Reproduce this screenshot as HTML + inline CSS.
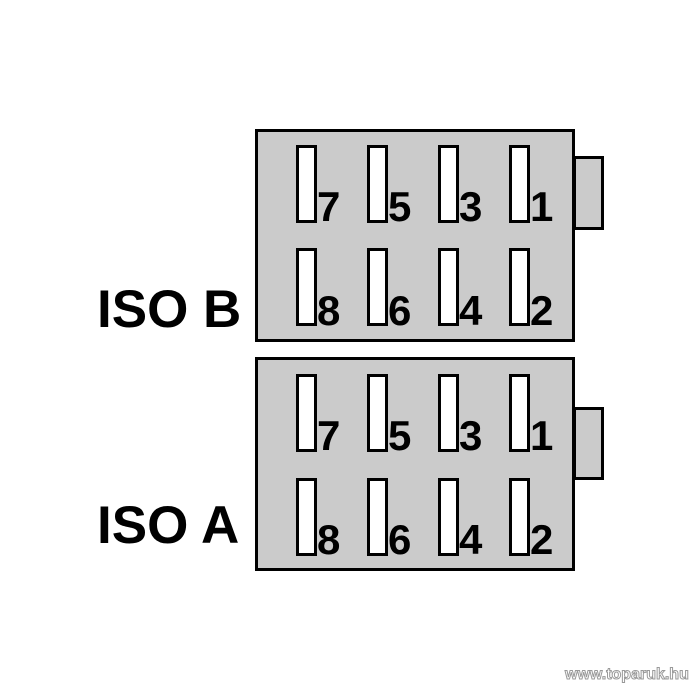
<!DOCTYPE html>
<html><head><style>
html,body{margin:0;padding:0;background:#fff;}
body{width:700px;height:700px;position:relative;overflow:hidden;font-family:"Liberation Sans",Arial,sans-serif;}
.box{position:absolute;background:#cbcbcb;border:3px solid #000;box-sizing:border-box;}
.pin{position:absolute;width:21px;height:78px;background:#fff;border:3px solid #000;box-sizing:border-box;}
.d{position:absolute;font-weight:bold;font-size:42px;line-height:1;letter-spacing:-1px;}
.lbl{position:absolute;font-weight:bold;font-size:53px;line-height:1;}
</style></head><body>
<div class="box" style="left:573px;top:156px;width:31px;height:74px;"></div>
<div class="box" style="left:255px;top:129px;width:320px;height:213px;"></div>
<div class="box" style="left:573px;top:407px;width:31px;height:73px;"></div>
<div class="box" style="left:255px;top:357px;width:320px;height:214px;"></div>

<div class="pin" style="left:296px;top:145px"></div>
<div class="pin" style="left:367px;top:145px"></div>
<div class="pin" style="left:438px;top:145px"></div>
<div class="pin" style="left:509px;top:145px"></div>
<div class="pin" style="left:296px;top:248px"></div>
<div class="pin" style="left:367px;top:248px"></div>
<div class="pin" style="left:438px;top:248px"></div>
<div class="pin" style="left:509px;top:248px"></div>
<div class="d" style="left:317px;top:186px">7</div>
<div class="d" style="left:388px;top:186px">5</div>
<div class="d" style="left:459px;top:186px">3</div>
<div class="d" style="left:530px;top:186px">1</div>
<div class="d" style="left:317px;top:290px">8</div>
<div class="d" style="left:388px;top:290px">6</div>
<div class="d" style="left:459px;top:290px">4</div>
<div class="d" style="left:530px;top:290px">2</div>

<div class="pin" style="left:296px;top:374px"></div>
<div class="pin" style="left:367px;top:374px"></div>
<div class="pin" style="left:438px;top:374px"></div>
<div class="pin" style="left:509px;top:374px"></div>
<div class="pin" style="left:296px;top:478px"></div>
<div class="pin" style="left:367px;top:478px"></div>
<div class="pin" style="left:438px;top:478px"></div>
<div class="pin" style="left:509px;top:478px"></div>
<div class="d" style="left:317px;top:415px">7</div>
<div class="d" style="left:388px;top:415px">5</div>
<div class="d" style="left:459px;top:415px">3</div>
<div class="d" style="left:530px;top:415px">1</div>
<div class="d" style="left:317px;top:519px">8</div>
<div class="d" style="left:388px;top:519px">6</div>
<div class="d" style="left:459px;top:519px">4</div>
<div class="d" style="left:530px;top:519px">2</div>

<div class="lbl" style="left:97px;top:283px">ISO B</div>
<div class="lbl" style="left:97px;top:499px">ISO A</div>
<div style="position:absolute;left:565px;top:666px;font-size:16px;font-weight:bold;color:#fff;-webkit-text-stroke:1px #999;">www.toparuk.hu</div>
</body></html>
